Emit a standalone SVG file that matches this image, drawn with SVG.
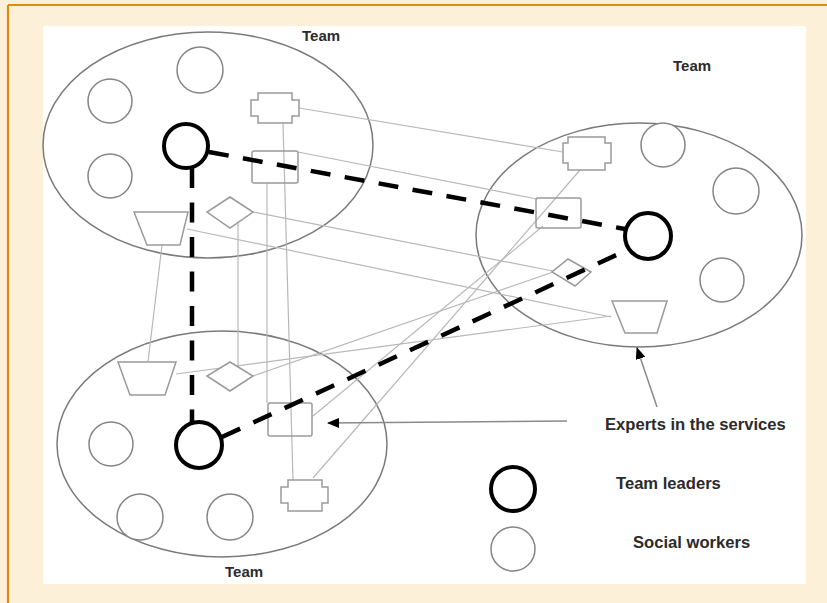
<svg xmlns="http://www.w3.org/2000/svg" width="827" height="603" viewBox="0 0 827 603">
  <defs>
    <style>
      .team { fill: none; stroke: #7a7a7a; stroke-width: 1.5; }
      .worker { fill: #fff; stroke: #858585; stroke-width: 1.5; }
      .leader { fill: #fff; stroke: #000; stroke-width: 4; }
      .expert { fill: #fff; stroke: #9a9a9a; stroke-width: 1.5; }
      .expert-open { fill: none; stroke: #9a9a9a; stroke-width: 1.5; }
      .link { fill: none; stroke: #b8b8b8; stroke-width: 1.2; }
      .lead-link { fill: none; stroke: #000; stroke-width: 4.5; stroke-dasharray: 20 14.5; }
      .pointer { fill: none; stroke: #8a8a8a; stroke-width: 1.5; }
      .label { font-family: "Liberation Sans", Arial, sans-serif; font-weight: bold; fill: #2b2b2b; }
    </style>
    <marker id="arrow" viewBox="0 0 12 10" refX="11" refY="5" markerWidth="12" markerHeight="10" markerUnits="userSpaceOnUse" orient="auto">
      <path d="M0,0 L12,5 L0,10 Z" fill="#000"/>
    </marker>
  </defs>

  <!-- page frame -->
  <rect x="0" y="0" width="827" height="603" fill="#fcf1d8"/>
  <line x1="8" y1="5" x2="827" y2="5" stroke="#dc8c0a" stroke-width="2.2"/>
  <line x1="8" y1="5" x2="8" y2="603" stroke="#dc8c0a" stroke-width="2.2"/>
  <rect x="43" y="26" width="763" height="558" fill="#fff"/>

  <!-- team boundaries -->
  <g id="team-top-left"><ellipse class="team" cx="208" cy="145" rx="165" ry="113"/></g>
  <g id="team-right"><ellipse class="team" cx="639" cy="235" rx="163" ry="112"/></g>
  <g id="team-bottom-left"><ellipse class="team" cx="222" cy="444" rx="165" ry="113"/></g>

  <!-- connectors -->
  <g id="connectors">
    <line class="link" x1="299" y1="108" x2="563" y2="152"/>
    <line class="link" x1="298" y1="152" x2="537" y2="199"/>
    <line class="link" x1="253" y1="212" x2="553" y2="271"/>
    <line class="link" x1="187" y1="229" x2="611" y2="317"/>
    <line class="link" x1="162" y1="245" x2="148" y2="362"/>
    <line class="link" x1="238" y1="218" x2="238" y2="370"/>
    <line class="link" x1="267" y1="183" x2="267" y2="403"/>
    <line class="link" x1="283" y1="123" x2="293" y2="480"/>
    <line class="link" x1="253" y1="376" x2="553" y2="272"/>
    <line class="link" x1="176" y1="374" x2="611" y2="316"/>
    <line class="link" x1="313" y1="416" x2="543" y2="226"/>
    <line class="link" x1="313" y1="478" x2="580" y2="170"/>
  </g>

  <!-- experts: top-left team -->
  <g id="expert-tl-cross"><polygon class="expert-open" points="258,93 292,93 292,100 299,100 299,116 292,116 292,123 258,123 258,116 251,116 251,100 258,100"/></g>
  <g id="expert-tl-rect"><rect class="expert-open" x="252" y="151" width="46" height="32" rx="2"/></g>
  <g id="expert-tl-diamond"><polygon class="expert" points="230,197 253,212 230,228 207,212"/></g>
  <g id="expert-tl-trapezoid"><polygon class="expert" points="134,212 188,212 180,245 147,245"/></g>

  <!-- experts: right team -->
  <g id="expert-r-cross"><polygon class="expert-open" points="568,137 605,137 605,143 611,143 611,163 605,163 605,170 568,170 568,163 563,163 563,143 568,143"/></g>
  <g id="expert-r-rect"><rect class="expert-open" x="536" y="198" width="45" height="30" rx="2"/></g>
  <g id="expert-r-diamond"><polygon class="expert" points="568,259 591,272 575,286 552,272"/></g>
  <g id="expert-r-trapezoid"><polygon class="expert" points="612,301 667,301 657,333 625,333"/></g>

  <!-- experts: bottom-left team -->
  <g id="expert-bl-cross"><polygon class="expert-open" points="288,480 322,480 322,487 328,487 328,503 322,503 322,511 288,511 288,503 281,503 281,487 288,487"/></g>
  <g id="expert-bl-rect"><rect class="expert-open" x="268" y="403" width="44" height="33" rx="2"/></g>
  <g id="expert-bl-diamond"><polygon class="expert" points="230,362 253,376 230,391 207,376"/></g>
  <g id="expert-bl-trapezoid"><polygon class="expert" points="118,362 176,362 165,395 130,395"/></g>

  <!-- social workers -->
  <g id="worker-tl-1"><circle class="worker" cx="110" cy="101" r="22"/></g>
  <g id="worker-tl-2"><circle class="worker" cx="200" cy="70" r="23"/></g>
  <g id="worker-tl-3"><circle class="worker" cx="110" cy="176" r="22"/></g>
  <g id="worker-r-1"><circle class="worker" cx="663" cy="145" r="22"/></g>
  <g id="worker-r-2"><circle class="worker" cx="736" cy="191" r="23"/></g>
  <g id="worker-r-3"><circle class="worker" cx="722" cy="280" r="22"/></g>
  <g id="worker-bl-1"><circle class="worker" cx="111" cy="444" r="22"/></g>
  <g id="worker-bl-2"><circle class="worker" cx="140" cy="517" r="23"/></g>
  <g id="worker-bl-3"><circle class="worker" cx="230" cy="517" r="23"/></g>

  <!-- links between team leaders -->
  <g id="leader-links">
    <line class="lead-link" x1="209" y1="152" x2="625" y2="229"/>
    <line class="lead-link" x1="192" y1="168" x2="192" y2="423"/>
    <line class="lead-link" x1="222" y1="437" x2="625" y2="251"/>
  </g>

  <!-- team leaders -->
  <g id="leader-tl"><circle class="leader" cx="186" cy="146" r="22"/></g>
  <g id="leader-r"><circle class="leader" cx="648" cy="236" r="23"/></g>
  <g id="leader-bl"><circle class="leader" cx="199" cy="445" r="23"/></g>

  <!-- team labels -->
  <text class="label" x="302" y="41" font-size="15">Team</text>
  <text class="label" x="673" y="71" font-size="15">Team</text>
  <text class="label" x="225" y="577" font-size="15">Team</text>

  <!-- pointers to experts -->
  <g id="expert-pointers">
    <line class="pointer" x1="567" y1="421" x2="328" y2="423" stroke="#a8a8a8" stroke-width="1.8" marker-end="url(#arrow)"/>
    <line class="pointer" x1="657" y1="407" x2="637" y2="348" marker-end="url(#arrow)"/>
  </g>

  <!-- legend -->
  <g id="legend-experts"><text class="label" x="605" y="430" font-size="16.6">Experts in the services</text></g>
  <g id="legend-leaders">
    <circle class="leader" cx="513" cy="489" r="22"/>
    <text class="label" x="616" y="489" font-size="16.6">Team leaders</text>
  </g>
  <g id="legend-workers">
    <circle class="worker" cx="513" cy="549" r="22"/>
    <text class="label" x="633" y="548" font-size="16.6">Social workers</text>
  </g>
</svg>
